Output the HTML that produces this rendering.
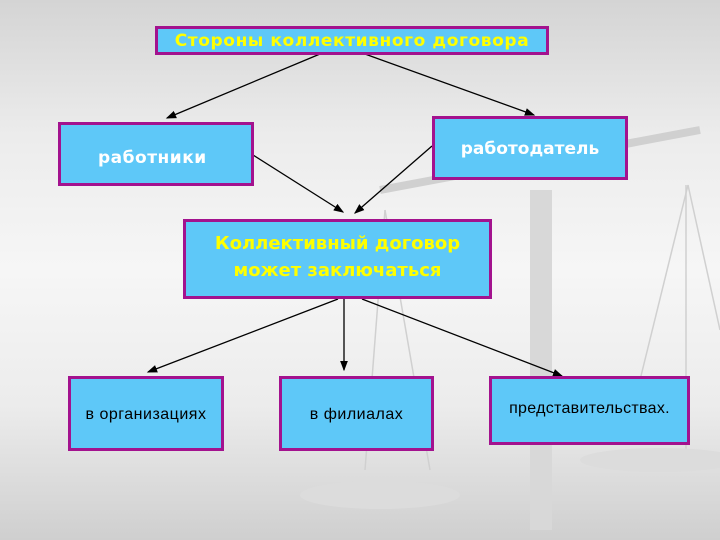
<!DOCTYPE html>
<html><head><meta charset="utf-8"><style>
body{margin:0;width:720px;height:540px;overflow:hidden;position:relative;font-family:"Liberation Sans",sans-serif;
background:linear-gradient(180deg,#d4d4d4 0%,#ececec 25%,#f6f6f6 50%,#ececec 75%,#cfcfcf 100%);}
.b{position:absolute;box-sizing:border-box;background:#5ec8f8;border:3px solid #a3128e;display:flex;align-items:center;justify-content:center;text-align:center;white-space:nowrap}
.h{font-family:"DejaVu Sans",sans-serif;font-weight:bold}
svg{position:absolute;left:0;top:0}
</style></head><body>
<svg width="720" height="540">
<g stroke="#d0d0d0" fill="none">
<path d="M380 190 L700 130" stroke-width="8"/>
<rect x="530" y="190" width="22" height="340" fill="#d8d8d8" stroke="none"/>
<line x1="688" y1="185" x2="640" y2="380" stroke-width="1.5"/>
<line x1="688" y1="185" x2="720" y2="330" stroke-width="1.5"/>
<line x1="686" y1="185" x2="686" y2="450" stroke-width="1.5"/>
<line x1="385" y1="210" x2="430" y2="470" stroke-width="1.5"/>
<line x1="385" y1="210" x2="365" y2="470" stroke-width="1.5"/>
<ellipse cx="380" cy="495" rx="80" ry="14" fill="#dcdcdc" stroke="none"/>
<ellipse cx="660" cy="460" rx="80" ry="12" fill="#dcdcdc" stroke="none"/>
</g>
<defs><marker id="a" markerWidth="8" markerHeight="8" refX="7" refY="4" orient="auto"><path d="M0,1 L8,4 L0,7z" fill="#000"/></marker></defs>
<g stroke="#000" stroke-width="1.3" marker-end="url(#a)">
<line x1="320" y1="54" x2="167" y2="118"/>
<line x1="365" y1="54" x2="534" y2="115"/>
<line x1="253" y1="155" x2="343" y2="212"/>
<line x1="432" y1="146" x2="355" y2="213"/>
<line x1="344" y1="299" x2="344" y2="370"/>
<line x1="338" y1="299" x2="148" y2="372"/>
<line x1="362" y1="299" x2="562" y2="376"/>
</g>
</svg>
<div class="b h" style="left:155px;top:26px;width:394px;height:29px;color:#ffff00;font-size:17px;letter-spacing:0.6px">Стороны коллективного договора</div>
<div class="b h" style="left:58px;top:122px;width:196px;height:64px;color:#fff;font-size:17px;letter-spacing:0.5px;justify-content:flex-start;padding-left:37px;padding-top:8px">работники</div>
<div class="b h" style="left:432px;top:116px;width:196px;height:64px;color:#fff;font-size:17px;padding-top:2px">работодатель</div>
<div class="b h" style="left:183px;top:219px;width:309px;height:80px;color:#ffff00;font-size:18px;line-height:27px;padding-bottom:4px">Коллективный договор<br>может заключаться</div>
<div class="b" style="left:68px;top:376px;width:156px;height:75px;color:#000;font-size:16px;letter-spacing:0.5px;padding-top:2px">в организациях</div>
<div class="b" style="left:279px;top:376px;width:155px;height:75px;color:#000;font-size:16px;letter-spacing:0.5px;padding-top:2px">в филиалах</div>
<div class="b" style="left:489px;top:376px;width:201px;height:69px;color:#000;font-size:16px;letter-spacing:0.3px;padding-bottom:4px">представительствах.</div>
</body></html>
